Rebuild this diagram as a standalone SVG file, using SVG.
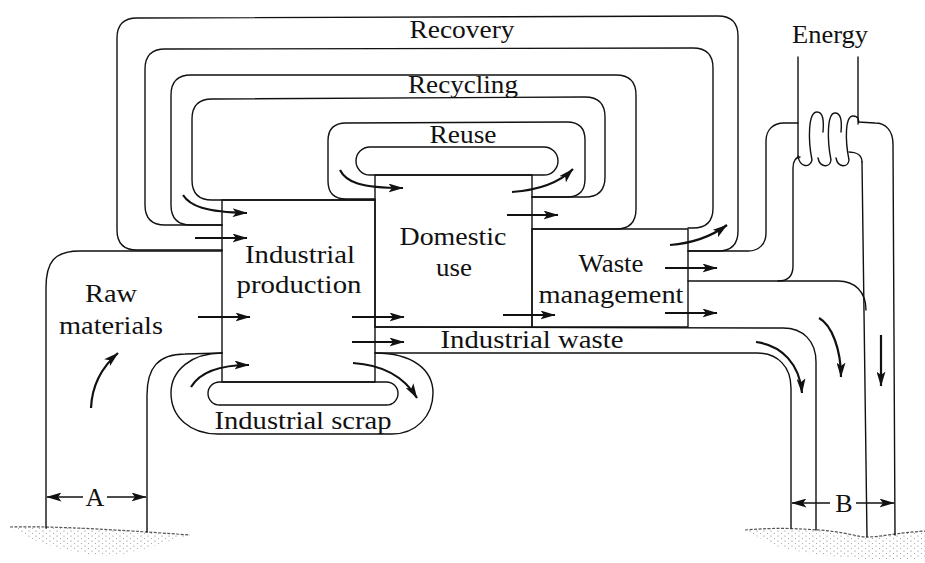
<svg xmlns="http://www.w3.org/2000/svg" width="925" height="563" viewBox="0 0 925 563">
<defs>
<style>
.ln{fill:none;stroke:#111;stroke-width:1.4;stroke-linecap:round;stroke-linejoin:round}
.ar{fill:none;stroke:#111;stroke-width:2.2;marker-end:url(#ah)}
.dim{fill:none;stroke:#111;stroke-width:1.4;marker-end:url(#ah)}
.t{font-family:"Liberation Serif","Times New Roman",serif;font-size:26px;fill:#111;text-anchor:middle}
.gnd{fill:url(#stip);stroke:none}
.gedge{fill:none;stroke:#555;stroke-width:1.2;stroke-dasharray:3 1.5}
</style>
<marker id="ah" viewBox="0 0 15 9" refX="14.5" refY="4.5" markerWidth="15" markerHeight="9" orient="auto" markerUnits="userSpaceOnUse">
<path d="M0,0 L15,4.5 L0,9 L3.5,4.5 Z" fill="#111"/>
</marker>
<pattern id="stip" width="7" height="5" patternUnits="userSpaceOnUse">
<circle cx="1" cy="1" r="0.6" fill="#777"/>
<circle cx="4.5" cy="3.5" r="0.55" fill="#999"/>
</pattern>
</defs>
<rect width="925" height="563" fill="#fff"/>

<g id="ground">
<path class="gnd" d="M 10,527 C 60,526 120,530 190,535 C 165,542 140,552 110,556 C 80,555 50,547 25,537 Z"/>
<path class="gedge" d="M 10,527 C 60,526 120,530 190,535"/>
<path class="gnd" d="M 745,530 C 780,527 800,529 820,530 C 845,532 858,537 867,537 C 880,537 895,533 925,531 L 925,558 C 880,562 820,558 775,546 Z"/>
<path class="gedge" d="M 745,530 C 780,527 800,529 820,530 C 845,532 858,537 867,537 C 880,537 895,533 925,531"/>
</g>

<g id="connectors">
<!-- Recovery / Recycling / Reuse bands -->
<path class="ln" d="M 222,250 L 137,250 Q 117,250 117,230 L 117,38 Q 117,18 137,18 L 718,16 Q 738,16 738,36 L 738,231 Q 738,251 718,251 L 688,251"/>
<path class="ln" d="M 222,225 L 165,225 Q 145,225 145,205 L 145,69 Q 145,49 165,49 L 693,48 Q 713,48 713,68 L 713,208 Q 713,228 693,228 L 688,228"/>
<path class="ln" d="M 222,225 L 191,225 Q 171,225 171,205 L 171,95 Q 171,75 191,75 L 616,75 Q 636,75 636,95 L 636,209 Q 636,229 616,229 L 532,229"/>
<path class="ln" d="M 375,200 L 212,200 Q 192,200 192,180 L 192,119 Q 192,99 212,99 L 585,97 Q 605,97 605,117 L 605,177 Q 605,197 585,197 L 532,197"/>
<path class="ln" d="M 375,199 L 346,199 Q 328,199 328,181 L 328,141 Q 328,123 346,123 L 567,122 Q 585,122 585,140 L 585,179 Q 585,197 567,197 L 532,197"/>
<!-- Raw materials pipe -->
<path class="ln" d="M 46,528 L 46,288 C 46,262 54,251 80,251 L 222,251"/>
<path class="ln" d="M 147,532 L 147,395 C 147,368 158,354 185,354 L 222,353"/>
<!-- Industrial scrap loop -->
<path class="ln" d="M 222,353 C 192,353 171,370 171,393 C 171,417 190,434 218,434 L 392,434 C 416,434 433,416 433,393 C 433,370 413,353 375,353"/>
<!-- Industrial waste band and waste output -->
<path class="ln" d="M 375,327 L 783,328 C 803,328 816,341 816,362 L 816,530"/>
<path class="ln" d="M 375,353 L 757,353 C 778,353 791,367 791,388 L 791,528"/>
<!-- Energy -->
<path class="ln" d="M 688,251 L 748,251 C 759,251 766,244 766,233 L 766,141 C 766,130 773,123 784,123 L 798,123"/>
<path class="ln" d="M 688,281 L 838,281 C 855,281 866,292 866,310"/>
<path class="ln" d="M 800,157 C 796,157 793,161 793,168 L 793,266 C 793,276 788,281 778,281"/>
<path class="ln" d="M 798,57 L 798,158"/>
<path class="ln" d="M 858,57 L 858,122 L 875,123 C 886,123 893,131 893,144 L 895,535"/>
<path class="ln" d="M 862,162 L 867,537"/>
<!-- coil -->
<path class="ln" d="M 798,156 C 800,168 810,168 812,160 C 808,140 808,112 817,112 C 823,112 824,120 823,132"/>
<path class="ln" d="M 818,158 C 820,168 830,168 831,160 C 827,140 827,113 835,113 C 841,113 842,121 841,132"/>
<path class="ln" d="M 836,158 C 838,168 848,168 849,160 C 845,140 845,116 853,116 C 858,116 860,120 858,124"/>
<path class="ln" d="M 849,152 C 856,152 862,155 862,162"/>
<!-- flow arrows -->
<path class="ar" d="M 183,195 C 190,206 205,212 247,213"/>
<path class="ar" d="M 195,238 L 247,238"/>
<path class="ar" d="M 340,170 C 346,182 360,188 403,188"/>
<path class="ar" d="M 512,192 C 540,190 560,182 573,169"/>
<path class="ar" d="M 507,215 L 558,215"/>
<path class="ar" d="M 670,245 C 695,243 712,236 727,225"/>
<path class="ar" d="M 665,268 L 717,268"/>
<path class="ar" d="M 665,313 L 717,313"/>
<path class="ar" d="M 503,315 L 555,315"/>
<path class="ar" d="M 198,317 L 250,317"/>
<path class="ar" d="M 352,317 L 404,317"/>
<path class="ar" d="M 352,342 L 404,342"/>
<path class="ar" d="M 353,363 C 385,365 405,378 417,398"/>
<path class="ar" d="M 191,387 C 200,372 220,365 249,365"/>
<path class="ar" d="M 91,408 C 92,385 102,367 118,353"/>
<path class="ar" d="M 756,342 C 782,345 800,365 802,393"/>
<path class="ar" d="M 819,318 C 832,325 841,350 841,377"/>
<path class="ar" d="M 881,335 L 881,386"/>
<!-- dimension arrows -->
<path class="dim" d="M 83,497 L 47,497"/>
<path class="dim" d="M 107,497 L 146,497"/>
<path class="dim" d="M 830,503 L 792,503"/>
<path class="dim" d="M 856,503 L 894,503"/>
</g>

<g id="node-industrial-production">
<rect class="ln" x="222" y="200" width="153" height="182"/>
<text class="t" x="300" y="263" textLength="110" lengthAdjust="spacingAndGlyphs">Industrial</text>
<text class="t" x="299" y="293" textLength="125" lengthAdjust="spacingAndGlyphs">production</text>
</g>
<g id="node-domestic-use">
<rect class="ln" x="375" y="175" width="157" height="152"/>
<text class="t" x="453" y="245" textLength="107" lengthAdjust="spacingAndGlyphs">Domestic</text>
<text class="t" x="454" y="276" textLength="36" lengthAdjust="spacingAndGlyphs">use</text>
</g>
<g id="node-waste-management">
<rect class="ln" x="532" y="229" width="156" height="98"/>
<text class="t" x="611" y="272" textLength="65" lengthAdjust="spacingAndGlyphs">Waste</text>
<text class="t" x="611" y="303" textLength="145" lengthAdjust="spacingAndGlyphs">management</text>
</g>
<g id="node-reuse">
<rect class="ln" x="356" y="147" width="202" height="28" rx="14"/>
<text class="t" x="463" y="143" textLength="67" lengthAdjust="spacingAndGlyphs">Reuse</text>
</g>
<g id="node-industrial-scrap">
<rect class="ln" x="208" y="382" width="190" height="23" rx="11.5"/>
<text class="t" x="303" y="429" textLength="177" lengthAdjust="spacingAndGlyphs">Industrial scrap</text>
</g>
<g id="node-raw-materials">
<text class="t" x="111" y="302" textLength="52" lengthAdjust="spacingAndGlyphs">Raw</text>
<text class="t" x="111" y="334" textLength="104" lengthAdjust="spacingAndGlyphs">materials</text>
</g>
<g id="labels">
<text class="t" x="462" y="38" textLength="105" lengthAdjust="spacingAndGlyphs">Recovery</text>
<text class="t" x="463" y="93" textLength="110" lengthAdjust="spacingAndGlyphs">Recycling</text>
<text class="t" x="532" y="348" textLength="183" lengthAdjust="spacingAndGlyphs">Industrial waste</text>
<text class="t" x="830" y="43" textLength="76" lengthAdjust="spacingAndGlyphs">Energy</text>
<text class="t" x="95" y="506">A</text>
<text class="t" x="844" y="512">B</text>
</g>
</svg>
